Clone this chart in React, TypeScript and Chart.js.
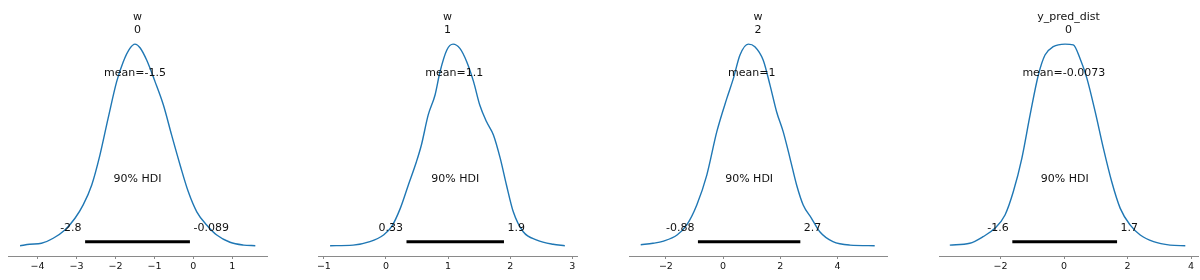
import React, { useEffect, useRef } from "react";
import { Chart, registerables } from "chart.js";

Chart.register(...registerables);

// ---- data (density scaled so each peak ~ 1) ----
const TITLES_VAR = ["w", "w", "w", "y_pred_dist"];
const TITLES_IDX = ["0", "1", "2", "0"];

const P1_X = [-4.45, -4.2, -3.9, -3.6, -3.3, -3.04, -2.83, -2.61, -2.4, -2.19, -1.97, -1.8, -1.63, -1.5, -1.37, -1.2, -0.985, -0.77, -0.56, -0.34, -0.13, 0.087, 0.34, 0.6, 0.94, 1.29, 1.59];
const P1_Y = [0.001, 0.008, 0.013, 0.038, 0.079, 0.137, 0.203, 0.302, 0.45, 0.632, 0.814, 0.913, 0.979, 1.0, 0.982, 0.921, 0.814, 0.698, 0.55, 0.4, 0.268, 0.169, 0.104, 0.054, 0.018, 0.004, 0.001];

const P2_X = [-0.9, -0.53, -0.26, -0.04, 0.09, 0.23, 0.36, 0.49, 0.57, 0.68, 0.79, 0.87, 0.98, 1.08, 1.19, 1.3, 1.41, 1.51, 1.62, 1.73, 1.84, 1.94, 2.05, 2.21, 2.43, 2.69, 2.88];
const P2_Y = [0.001, 0.004, 0.021, 0.054, 0.095, 0.186, 0.302, 0.417, 0.5, 0.649, 0.748, 0.863, 0.971, 1.0, 0.979, 0.913, 0.814, 0.698, 0.615, 0.55, 0.434, 0.302, 0.169, 0.07, 0.029, 0.008, 0.001];

const P3_X = [-2.88, -2.45, -2.08, -1.61, -1.27, -0.92, -0.57, -0.22, 0.13, 0.36, 0.59, 0.88, 1.11, 1.4, 1.64, 1.87, 2.1, 2.34, 2.57, 2.8, 3.09, 3.38, 3.84, 4.43, 5.3];
const P3_Y = [0.006, 0.013, 0.024, 0.054, 0.104, 0.203, 0.351, 0.566, 0.731, 0.83, 0.946, 1.0, 0.987, 0.921, 0.797, 0.665, 0.566, 0.434, 0.302, 0.203, 0.137, 0.07, 0.021, 0.004, 0.001];

const P4_X = [-3.6, -2.97, -2.55, -2.18, -1.86, -1.6, -1.33, -1.07, -0.81, -0.6, -0.34, 0.03, 0.29, 0.5, 0.72, 0.98, 1.24, 1.5, 1.77, 2.08, 2.4, 2.82, 3.34, 3.82];
const P4_Y = [0.004, 0.013, 0.046, 0.087, 0.153, 0.268, 0.434, 0.649, 0.847, 0.946, 0.987, 1.0, 0.996, 0.93, 0.83, 0.665, 0.483, 0.319, 0.186, 0.104, 0.054, 0.021, 0.004, 0.001];

const CURVES_X = [P1_X, P2_X, P3_X, P4_X];
const CURVES_Y = [P1_Y, P2_Y, P3_Y, P4_Y];

const MEANS = [-1.5, 1.1, 1.0, -0.0073];
const MEAN_LABELS = ["mean=-1.5", "mean=1.1", "mean=1", "mean=-0.0073"];
const HDI_LOW = [-2.78, 0.33, -0.88, -1.63];
const HDI_HIGH = [-0.089, 1.9, 2.7, 1.67];
const HDI_LOW_LABELS = ["-2.8", "0.33", "-0.88", "-1.6"];
const HDI_HIGH_LABELS = ["-0.089", "1.9", "2.7", "1.7"];
const HDI_TEXT = "90% HDI";

const X_MIN = [-4.76, -1.095, -3.29, -3.94];
const X_MAX = [1.89, 3.076, 5.73, 4.22];
const TICKS = [
  [-4, -3, -2, -1, 0, 1],
  [-1, 0, 1, 2, 3],
  [-2, 0, 2, 4],
  [-2, 0, 2, 4],
];

// layout
const W = 1200;
const H = 280;
const AXIS_LEFT = [8, 318, 629, 939];
const AXIS_RIGHT = [267, 577, 887, 1198];
const AREA_TOP = 34;
const AREA_BOTTOM = 256;
const Y_MIN = -0.05;
const Y_MAX = 1.05;

const FONT_FAMILY = '"DejaVu Sans", sans-serif';
const TEXT_COLOR = "#111";
const LINE_COLOR = "#1f77b4";
const AXIS_COLOR = "#8a8a8a";

function Panel({ i }: { i: number }) {
  const ref = useRef<HTMLCanvasElement | null>(null);
  useEffect(() => {
    const canvas = ref.current;
    if (!canvas) return;
    const curve = CURVES_X[i].map((x, k) => ({ x, y: CURVES_Y[i][k] }));
    const barY = Y_MAX * 0.02;
    const textPlugin = {
      id: "posteriorText" + i,
      afterDraw(chart: any) {
        const { ctx, chartArea, scales } = chart;
        const xs = scales.x;
        const ys = scales.y;
        ctx.save();
        ctx.fillStyle = TEXT_COLOR;
        ctx.font = "11px " + FONT_FAMILY;
        ctx.textBaseline = "alphabetic";
        ctx.textAlign = "center";
        const cx = (chartArea.left + chartArea.right) / 2;
        ctx.fillText(TITLES_VAR[i], cx, chartArea.top - 14);
        ctx.fillText(TITLES_IDX[i], cx, chartArea.top - 1.5);
        ctx.fillText(MEAN_LABELS[i], xs.getPixelForValue(MEANS[i]), ys.getPixelForValue(Y_MAX * 0.8));
        ctx.fillText(
          HDI_TEXT,
          xs.getPixelForValue((HDI_LOW[i] + HDI_HIGH[i]) / 2),
          ys.getPixelForValue(Y_MAX * 0.3)
        );
        const yv = ys.getPixelForValue(Y_MAX * 0.07);
        ctx.textAlign = "right";
        ctx.fillText(HDI_LOW_LABELS[i], xs.getPixelForValue(HDI_LOW[i]) - 3.5, yv);
        ctx.textAlign = "left";
        ctx.fillText(HDI_HIGH_LABELS[i], xs.getPixelForValue(HDI_HIGH[i]) + 3.5, yv);
        ctx.restore();
      },
    };
    const chart = new Chart(canvas, {
      type: "line",
      data: {
        datasets: [
          {
            data: curve,
            borderColor: LINE_COLOR,
            borderWidth: 1.4,
            pointRadius: 0,
            fill: false,
            cubicInterpolationMode: "monotone",
          },
          {
            data: [
              { x: HDI_LOW[i], y: barY },
              { x: HDI_HIGH[i], y: barY },
            ],
            borderColor: "#000",
            borderWidth: 3,
            borderCapStyle: "butt",
            pointRadius: 0,
            fill: false,
          },
        ],
      },
      options: {
        animation: false,
        responsive: false,
        devicePixelRatio: 1,
        events: [],
        layout: {
          padding: {
            left: AXIS_LEFT[i],
            right: W - AXIS_RIGHT[i],
            top: AREA_TOP,
            bottom: 0,
          },
        },
        plugins: { legend: { display: false }, tooltip: { enabled: false }, title: { display: false } },
        scales: {
          x: {
            type: "linear",
            min: X_MIN[i],
            max: X_MAX[i],
            afterBuildTicks: (scale: any) => {
              scale.ticks = TICKS[i].map((v) => ({ value: v }));
            },
            afterFit: (scale: any) => {
              scale.height = H - AREA_BOTTOM;
            },
            grid: {
              display: true,
              drawOnChartArea: false,
              drawTicks: true,
              tickLength: 3,
              tickColor: AXIS_COLOR,
              tickWidth: 1,
            },
            border: { display: true, color: AXIS_COLOR, width: 1 },
            ticks: {
              autoSkip: false,
              maxRotation: 0,
              padding: 2,
              color: TEXT_COLOR,
              font: { family: FONT_FAMILY, size: 9.5 },
              callback: (v: any) => String(v).replace("-", "\u2212"),
            },
          },
          y: {
            type: "linear",
            display: false,
            min: Y_MIN,
            max: Y_MAX,
          },
        },
      },
      plugins: [textPlugin],
    } as any);
    return () => chart.destroy();
  }, [i]);
  return (
    <canvas
      ref={ref}
      width={W}
      height={H}
      style={{ position: "absolute", left: 0, top: 0, width: W, height: H }}
    />
  );
}

export default function App() {
  return (
    <div style={{ position: "fixed", left: 0, top: 0, width: W, height: H, background: "#fff" }}>
      {[0, 1, 2, 3].map((i) => (
        <Panel key={i} i={i} />
      ))}
    </div>
  );
}
